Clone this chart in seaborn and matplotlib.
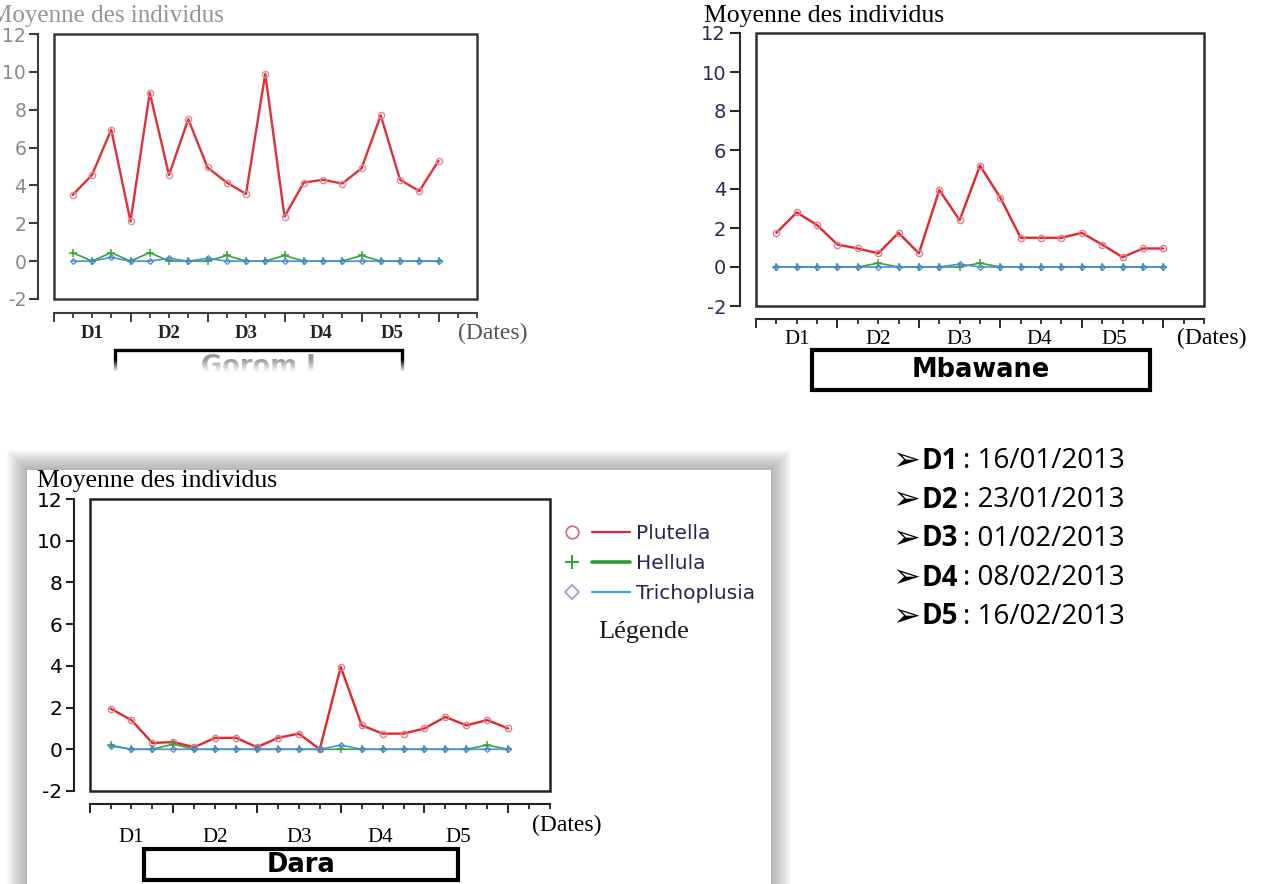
import numpy as np
import pandas as pd
import matplotlib.pyplot as plt
import matplotlib.patches as mpatches
from matplotlib.lines import Line2D
from matplotlib.legend_handler import HandlerTuple
import seaborn as sns

# relevés 1..20, four per date D1..D5
releves = list(range(1, 21))
species = ["Plutella", "Hellula", "Trichoplusia"]
date_labels = ["D1", "D2", "D3", "D4", "D5"]
date_values = ["16/01/2013", "23/01/2013", "01/02/2013", "08/02/2013", "16/02/2013"]
sites = ["Gorom I", "Mbawane", "Dara"]

gorom_plutella = [3.5, 4.55, 6.95, 2.1, 8.9, 4.55, 7.5, 4.95, 4.15, 3.55,
                  9.9, 2.35, 4.15, 4.3, 4.1, 4.9, 7.7, 4.3, 3.7, 5.3]
gorom_hellula = [0.45, 0, 0.45, 0, 0.45, 0, 0, 0, 0.3, 0,
                 0, 0.3, 0, 0, 0, 0.3, 0, 0, 0, 0]
gorom_trichoplusia = [0, 0, 0.2, 0, 0, 0.15, 0, 0.15, 0, 0,
                      0, 0, 0, 0, 0, 0, 0, 0, 0, 0]

mbawane_plutella = [1.75, 2.8, 2.15, 1.15, 0.95, 0.7, 1.75, 0.7, 3.95, 2.4,
                    5.2, 3.55, 1.5, 1.5, 1.5, 1.75, 1.15, 0.5, 0.95, 0.95]
mbawane_hellula = [0, 0, 0, 0, 0, 0.2, 0, 0, 0, 0,
                   0.2, 0, 0, 0, 0, 0, 0, 0, 0, 0]
mbawane_trichoplusia = [0, 0, 0, 0, 0, 0, 0, 0, 0, 0.15,
                        0, 0, 0, 0, 0, 0, 0, 0, 0, 0]

dara_plutella = [1.95, 1.4, 0.3, 0.35, 0.1, 0.55, 0.55, 0.1, 0.55, 0.75,
                 0.0, 3.95, 1.15, 0.75, 0.75, 1.0, 1.55, 1.15, 1.4, 1.0]
dara_hellula = [0.2, 0, 0, 0.25, 0, 0, 0, 0, 0, 0,
                0, 0, 0, 0, 0, 0, 0, 0, 0.2, 0]
dara_trichoplusia = [0.15, 0, 0, 0, 0, 0, 0, 0, 0, 0,
                     0, 0.2, 0, 0, 0, 0, 0, 0, 0, 0]

sns.set_style("white")
plt.rcParams["font.family"] = ["DejaVu Sans"]
plt.rcParams["axes.unicode_minus"] = False

W, H = 1263, 884
fig = plt.figure(figsize=(W / 100, H / 100), dpi=100)


def fx(x):
    return x / W


def fy(y):
    return 1 - y / H


def px_rect(x0, y0, x1, y1):
    return [fx(x0), fy(y1), (x1 - x0) / W, (y1 - y0) / H]


PT = 0.72  # points per pixel at 100 dpi
SERIF = "Liberation Serif"
red, green, blue = "#e3262d", "#35a537", "#4d8fde"

# shadowed card behind the Dara panel
for k in range(20, 0, -1):
    fig.add_artist(mpatches.Rectangle((fx(27 - k), 0), (744 + 2 * k) / W, (884 - 470 + k) / H,
                                      transform=fig.transFigure, facecolor="0.4",
                                      edgecolor="none", alpha=0.028, zorder=-2))
fig.add_artist(mpatches.Rectangle((fx(27), 0), 744 / W, (884 - 470) / H, transform=fig.transFigure,
                                  facecolor="white", edgecolor="none", zorder=-1))


def panel(box, plut, hell, trich, s):
    ax = fig.add_axes(px_rect(*box))
    ax.set_facecolor("none")
    sns.lineplot(x=releves, y=plut, ax=ax, color=s["red"], linewidth=1.7, marker="o",
                 markersize=4.5, mfc="none", mec=s["red_mk"], mew=1.0)
    sns.lineplot(x=releves, y=hell, ax=ax, color=green, linewidth=1.2, marker="+",
                 markersize=6, mec=green, mew=1.1)
    sns.lineplot(x=releves, y=trich, ax=ax, color=blue, linewidth=1.2, marker="D",
                 markersize=3, mfc="none", mec="#3f7fd0", mew=0.8)
    ax.set_xlim(0, 22)
    ax.set_ylim(-2, 12)
    ax.set_yticks(range(-2, 13, 2))
    ax.set_xticks(range(0, 21, 4))
    ax.set_xticks(range(0, 23), minor=True)
    ax.set_xticklabels([])
    ax.set_xlabel("")
    ax.set_ylabel("")
    ax.spines[["top", "right"]].set_visible(False)
    ax.spines["left"].set_position(("outward", s["yoff"] * PT))
    ax.spines["bottom"].set_position(("outward", s["xoff"] * PT))
    for side in ("left", "bottom"):
        ax.spines[side].set_color(s["axis"])
        ax.spines[side].set_linewidth(1.5)
    ax.tick_params(axis="y", left=True, direction="out", length=s["ylen"], width=1.5,
                   color=s["axis"], labelsize=s["lsize"], labelcolor=s["lcolor"], pad=s["pad"])
    ax.tick_params(axis="x", which="major", bottom=True, direction="out", length=6.5,
                   width=1.4, color=s["axis"])
    ax.tick_params(axis="x", which="minor", bottom=True, direction="out", length=3.3,
                   width=1.3, color=s["axis"])
    ax.add_patch(mpatches.Rectangle((0, 0), 1, 1, transform=ax.transAxes, fill=False,
                                    edgecolor=s["frame"], linewidth=1.8, clip_on=False, zorder=5))
    for lab, pos in zip(date_labels, [2, 6, 10, 13.9, 17.6]):
        ax.annotate(lab, xy=(pos, 0), xycoords=("data", "axes fraction"),
                    xytext=(0, -s["doff"] * PT), textcoords="offset points",
                    ha="center", va="center", family=SERIF, fontsize=s["dsize"],
                    fontweight=s["dweight"], color=s["dcolor"])
    return ax


gorom = dict(red="#e0303a", red_mk="#e58a95", yoff=15.5, xoff=14, axis="#3d3d3d",
             lcolor="#8a8a8a", lsize=13.5, ylen=6.5, pad=2, frame="#3a3a3a",
             doff=34, dsize=13.5, dweight="bold", dcolor="#222222")
mbawane = dict(red=red, red_mk="#e27c88", yoff=16, xoff=13, axis="#2b2b2b",
               lcolor="#2e2a5a", lsize=14, ylen=7, pad=3, frame="#2e2e2e",
               doff=34, dsize=15, dweight="normal", dcolor="black")
dara = dict(red=red, red_mk="#e27c88", yoff=16, xoff=13, axis="#222222",
            lcolor="black", lsize=14.5, ylen=6, pad=2, frame="#222222",
            doff=46, dsize=15, dweight="normal", dcolor="black")

panel((53.5, 34, 477, 299), gorom_plutella, gorom_hellula, gorom_trichoplusia, gorom)
panel((756, 33, 1204, 306), mbawane_plutella, mbawane_hellula, mbawane_trichoplusia, mbawane)
ax_dara = panel((89.6, 499, 550, 791), dara_plutella, dara_hellula, dara_trichoplusia, dara)

# y titles and x captions
fig.text(fx(-10), fy(16), "Moyenne des individus", ha="left", va="center",
         family=SERIF, fontsize=18, color="#959595")
fig.text(fx(704), fy(16), "Moyenne des individus", ha="left", va="center",
         family=SERIF, fontsize=18.5, color="black")
fig.text(fx(37), fy(481), "Moyenne des individus", ha="left", va="center",
         family=SERIF, fontsize=18.5, color="black")
fig.text(fx(458), fy(333), "(Dates)", ha="left", va="center", family=SERIF,
         fontsize=17, color="#555555")
fig.text(fx(1177), fy(338), "(Dates)", ha="left", va="center", family=SERIF,
         fontsize=17, color="black")
fig.text(fx(532), fy(825), "(Dates)", ha="left", va="center", family=SERIF,
         fontsize=17, color="black")

# site name boxes
for name, (x0, y0, x1, y1), col, lw in [
        (sites[0], (115, 350, 402, 392), "#999999", 2.4),
        (sites[1], (812, 350, 1150, 390), "black", 3.0),
        (sites[2], (144, 849, 458, 880), "black", 3.0)]:
    fig.add_artist(mpatches.Rectangle((fx(x0), fy(y1)), (x1 - x0) / W, (y1 - y0) / H,
                                      transform=fig.transFigure, fill=False,
                                      edgecolor="black", linewidth=lw, zorder=2))
    yc = 367 if name == sites[0] else (y0 + y1) / 2
    fig.text(fx((x0 + x1) / 2), fy(yc), name, ha="center", va="center",
             fontsize=18.5, fontweight="bold", color=col)

# fade the bottom of the Gorom I box out
fade = fig.add_axes(px_rect(100, 356, 420, 404), zorder=10)
alpha = np.clip((np.arange(48) - 4) / 12, 0, 1)
grad = np.ones((48, 1, 4))
grad[:, 0, 3] = alpha
fade.imshow(grad, aspect="auto", interpolation="bilinear")
fade.axis("off")

# legend of the Dara panel
handles = [
    (Line2D([], [], marker="o", ls="none", markersize=9, mfc="none", mec="#d9707c", mew=1.3),
     Line2D([], [], color=red, linewidth=1.6)),
    (Line2D([], [], marker="+", ls="none", markersize=10, mec=green, mew=1.5),
     Line2D([], [], color="#2c9c35", linewidth=2.6)),
    (Line2D([], [], marker="D", ls="none", markersize=7, mfc="none", mec="#8a98e0", mew=1.2),
     Line2D([], [], color="#3fa2e6", linewidth=1.6)),
]
leg = ax_dara.legend(handles, species, handler_map={tuple: HandlerTuple(ndivide=None, pad=0.05)},
                     loc="upper left", bbox_to_anchor=(fx(553), fy(524)),
                     bbox_transform=fig.transFigure, frameon=False, fontsize=14.5,
                     handlelength=3.8, handletextpad=0.3, labelspacing=0.55,
                     borderpad=0, borderaxespad=0)
for t in leg.get_texts():
    t.set_color("#2a2456")
fig.text(fx(598), fy(632), "Légende", ha="left", va="center", family=SERIF,
         fontsize=19, color="#1a1a1a")

# date key
for i, (lab, val) in enumerate(zip(date_labels, date_values)):
    y = fy([461, 500, 539, 578, 617][i])
    fig.text(fx(892), y, "➢", ha="left", va="center", fontsize=24,
             family=["DejaVu Sans"], color="black")
    fig.text(fx(921), y, lab, ha="left", va="center", fontsize=20, fontweight="bold",
             family=["Open Sans", "DejaVu Sans"], color="black")
    fig.text(fx(963), y, ": " + val, ha="left", va="center", fontsize=20,
             family=["Open Sans", "DejaVu Sans"], color="black")

fig.savefig("out.png", dpi=100)
